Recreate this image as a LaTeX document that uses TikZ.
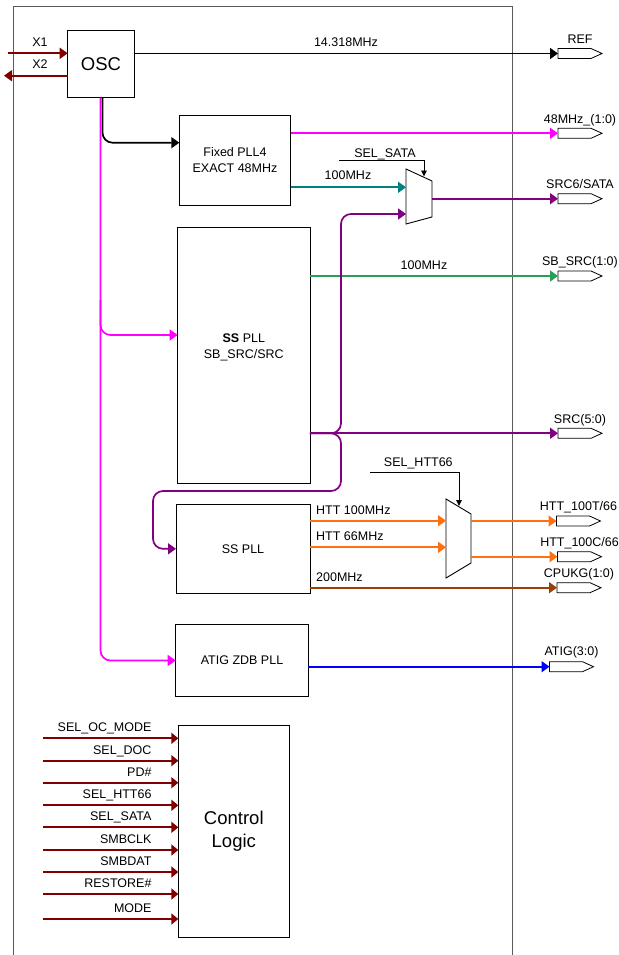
\documentclass[tikz,border=0pt]{standalone}
\usepackage{fontspec}
\setmainfont{Liberation Sans}
\usetikzlibrary{arrows.meta,calc}
\definecolor{dred}{RGB}{128,0,0}
\definecolor{mag}{RGB}{255,0,255}
\definecolor{tealc}{RGB}{0,128,128}
\definecolor{greenc}{RGB}{40,160,90}
\definecolor{purp}{RGB}{128,0,128}
\definecolor{orng}{RGB}{255,112,16}
\definecolor{brwn}{RGB}{158,62,6}
\definecolor{bluec}{RGB}{0,0,255}
\definecolor{framec}{RGB}{90,90,90}
\begin{document}
\begin{tikzpicture}[x=1pt,y=-1pt,
  box/.style={draw=black, line width=0.9pt, inner sep=0pt, outer sep=0pt, align=center, font=\fontsize{12.5}{16}\selectfont},
  bigbox/.style={box, font=\fontsize{18.5}{22.7}\selectfont},
  lbl/.style={font=\fontsize{12.5}{16}\selectfont, inner sep=0pt, anchor=base},
  sig/.style={line width=1.7pt, -{Triangle[length=8pt,width=11pt]}},
  sel/.style={line width=0.9pt, black, -{Triangle[length=6pt,width=5.5pt]}},
  pinbox/.style={minimum width=44pt, minimum height=10pt, inner sep=0pt, outer sep=0pt},
  muxs/.style={draw=black, line width=0.9pt}
]
\useasboundingbox (0,0) rectangle (618,955);

% main frame
\draw[framec, line width=1.2pt] (13.3,955) |- (512.7,6.7) -- (512.7,955);

% blocks
\node[bigbox, minimum width=66.6pt, minimum height=66.7pt] (osc) at (101,64.3) {OSC};
\node[box, minimum width=111.4pt, minimum height=90pt] (fpll) at (235,160) {Fixed PLL4\\EXACT 48MHz};
\node[box, minimum width=132.3pt, minimum height=255.7pt] (sspll1) at (243.8,355.2) {};
\node[lbl, anchor=center, align=center] (sspll1txt) at (243.8,347.5) {\textbf{SS} PLL\\SB\_SRC/SRC};
\node[box, minimum width=134pt, minimum height=89pt] (sspll2) at (243,548.8) {SS PLL};
\node[box, minimum width=132.6pt, minimum height=72.4pt] (atig) at (242,660.5) {ATIG ZDB PLL};
\node[bigbox, minimum width=111pt, minimum height=212.3pt] (ctrl) at (233.8,831.2) {Control\\Logic};

% output pins
\foreach \n/\x/\y in {pref/580/53.5, p48/580/133.3, psata/580/198.7, psbsrc/580/276,
  psrc/580/433.3, phttt/578.5/521, phttc/579.5/556.7, pcpu/579/587.7, patig/571.5/666.7}{
  \node[pinbox] (\n) at (\x,\y) {};
  \draw[black, line width=0.8pt] (\n.north west) -- ($(\n.north east)+(-11,0)$) -- (\n.east)
     -- ($(\n.south east)+(-11,0)$) -- (\n.south west) -- cycle;
}
\node[lbl] (lref)   at ($(pref.center)+(0,-9.5)$) {REF};
\node[lbl] (l48)    at ($(p48.center)+(0,-10)$) {48MHz\_(1:0)};
\node[lbl] (lsata)  at ($(psata.center)+(0,-10)$) {SRC6/SATA};
\node[lbl] (lsbsrc) at ($(psbsrc.center)+(0,-11)$) {SB\_SRC(1:0)};
\node[lbl] (lsrc)   at ($(psrc.center)+(0,-10)$) {SRC(5:0)};
\node[lbl] (lhttt)  at ($(phttt.center)+(0,-11)$) {HTT\_100T/66};
\node[lbl] (lhttc)  at ($(phttc.center)+(0,-10)$) {HTT\_100C/66};
\node[lbl] (lcpu)   at ($(pcpu.center)+(0,-10.4)$) {CPUKG(1:0)};
\node[lbl] (latig)  at ($(patig.center)+(0,-11.7)$) {ATIG(3:0)};

% crystal pins
\coordinate (x1) at (8,53.3);
\coordinate (x2) at (4,75.7);
\draw[sig, dred] (x1) -- (osc.west |- x1);
\draw[sig, dred] (osc.west |- x2) -- (x2);
\node[lbl] (lx1) at (40,46.7) {X1};
\node[lbl] (lx2) at (40,69) {X2};

% OSC outputs
\draw[sig, black] (osc.east |- pref) -- (pref.west);
\node[lbl] (l14) at (346,46.7) {14.318MHz};
\draw[sig, black, rounded corners=10pt] ($(osc.south)+(1.5,0)$) |- (fpll.west |- 0,142.7);
\draw[sig, mag, rounded corners=10pt] ($(osc.south)+(-0.5,0)$) |- (atig.west);
\draw[sig, mag, rounded corners=10pt] (100.5,300) |- (sspll1.west |- 0,335);

% SATA mux
\draw[muxs] (406,169) -- (432,181) -- (432,217) -- (406,224) -- cycle;
\coordinate (m1a) at (406,187.3);
\coordinate (m1b) at (406,214);
\coordinate (m1o) at (432,198.7);
\coordinate (m1s) at (424,176.5);
\coordinate (s1) at (339,160.7);
\draw[sel] (s1) -| (m1s);
\node[lbl] (lselsata) at (385,157.5) {SEL\_SATA};

\draw[sig, mag] (fpll.east |- p48) -- (p48.west);
\draw[sig, tealc] (fpll.east |- m1a) -- (m1a);
\node[lbl] (l100a) at (348,179.3) {100MHz};
\draw[sig, purp] (m1o) -- (psata.west);

% SS PLL SB_SRC/SRC outputs
\draw[sig, greenc] (sspll1.east |- psbsrc) -- (psbsrc.west);
\node[lbl] (l100b) at (424,269) {100MHz};
\draw[sig, purp] (sspll1.east |- psrc) -- (psrc.west);
\draw[sig, purp, rounded corners=10pt] (sspll1.east |- psrc) -| (341,214) -- (m1b);
\draw[sig, purp, rounded corners=10pt] (sspll1.east |- psrc) -| (341,491) -| (153,548.8) -- (sspll2.west);

% HTT mux
\draw[muxs] (446,499) -- (471,514) -- (471,563) -- (446,578) -- cycle;
\coordinate (m2a) at (446,520.7);
\coordinate (m2b) at (446,547.3);
\coordinate (m2o1) at (471,521);
\coordinate (m2o2) at (471,556.7);
\coordinate (m2s) at (459,506);
\coordinate (s2) at (370,472.3);
\draw[sel] (s2) -| (m2s);
\node[lbl] (lselhtt) at (418.3,466) {SEL\_HTT66};

\draw[sig, orng] (sspll2.east |- m2a) -- (m2a);
\draw[sig, orng] (sspll2.east |- m2b) -- (m2b);
\node[lbl, anchor=base west] (lhtt100) at (316,514) {HTT 100MHz};
\node[lbl, anchor=base west] (lhtt66) at (316,540.7) {HTT 66MHz};
\draw[sig, orng] (m2o1) -- (phttt.west);
\draw[sig, orng] (m2o2) -- (phttc.west);
\draw[sig, brwn] (sspll2.east |- pcpu) -- (pcpu.west);
\node[lbl, anchor=base west] (l200) at (316,581) {200MHz};

% ATIG
\draw[sig, bluec] (atig.east |- patig) -- (patig.west);

% control inputs
\foreach \i/\y/\t in {1/738.3/SEL\_OC\_MODE, 2/760.7/SEL\_DOC, 3/782.7/PD\#, 4/805.3/SEL\_HTT66,
   5/827.3/SEL\_SATA, 6/850/SMBCLK, 7/872/SMBDAT, 8/894/RESTORE\#, 9/919/MODE}{
  \coordinate (in\i) at (43.3,\y);
  \draw[sig, dred, -{Triangle[length=7pt,width=11pt]}] (in\i) -- (ctrl.west |- in\i);
  \node[lbl, anchor=base east] (lin\i) at (151.7,\y-6.5) {\t};
}
\end{tikzpicture}
\end{document}
